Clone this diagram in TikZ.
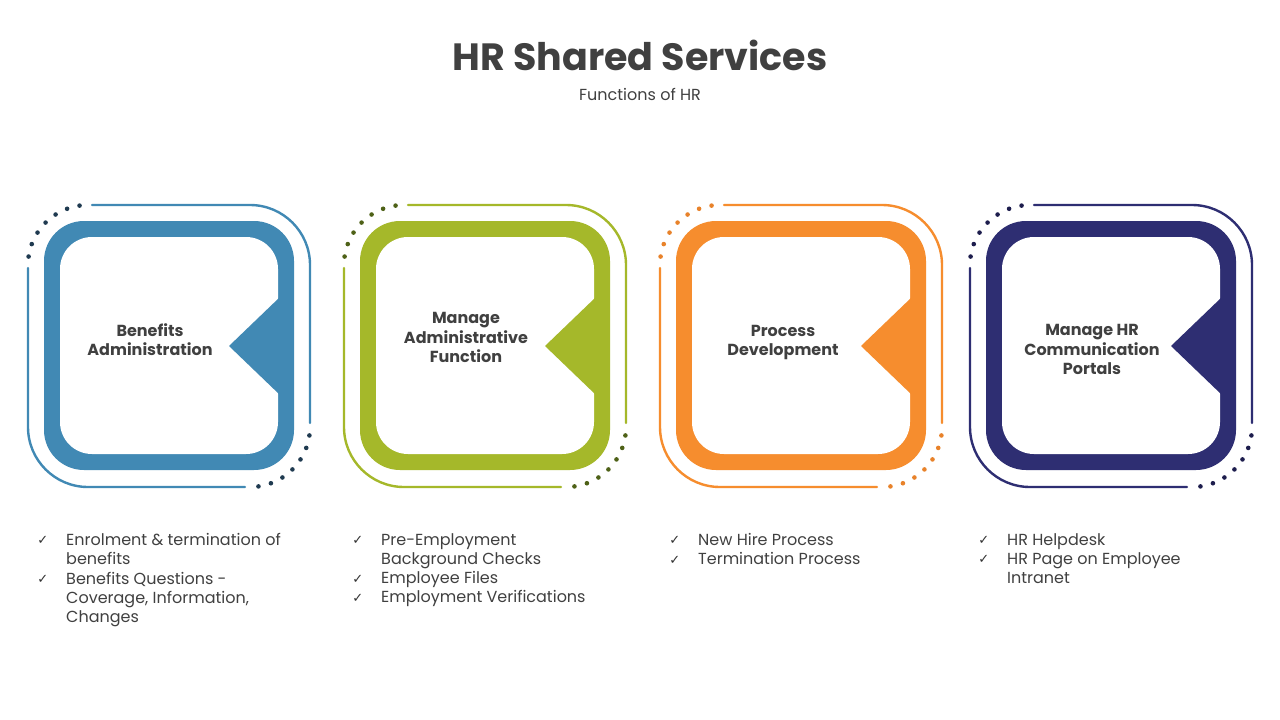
\documentclass[tikz,border=0pt]{standalone}
\usepackage{fontspec}
\setmainfont{Poppins}
\newfontfamily\symfont{DejaVu Sans}
\definecolor{cblue}{HTML}{4189B4}
\definecolor{cgreen}{HTML}{A5B82A}
\definecolor{corange}{HTML}{F68D2E}
\definecolor{cnavy}{HTML}{2E2E72}
\definecolor{dblue}{HTML}{1F3A50}
\definecolor{dgreen}{HTML}{4E6117}
\definecolor{dorange}{HTML}{E8822A}
\definecolor{dnavy}{HTML}{1D1D4D}
\definecolor{tgray}{HTML}{404040}
\newcommand\chk{\llap{\raisebox{0.5pt}{\symfont\fontsize{13}{13}\selectfont\color{black!80}✓}\hspace{18pt}}}
\newcommand\hrcard[3]{%
 \begin{scope}[shift={(#1,346)}]
  \fill[#2,rounded corners=40pt] (-125,-125) rectangle (125,124);
  \fill[white,rounded corners=32pt] (-109,-109) rectangle (109,108);
  \fill[#2] (111,-49) -- (60,0) -- (111,49) -- cycle;
  \draw[#2,thinframe] (-77,-141) -- (141,-141) -- (141,77);
  \draw[#2,thinframe] (-141,-78) -- (-141,141) -- (76,141);
  \foreach \k in {-3,...,3} {
    \fill[#3] ({-81+60*cos(135+12.3*\k)},{-81-60*sin(135+12.3*\k)}) circle (2.3);
    \fill[#3] ({81+60*cos(-45+12.3*\k)},{81-60*sin(-45+12.3*\k)}) circle (2.3);
  }
 \end{scope}}
\tikzset{
  thinframe/.style={line width=2.4pt,line cap=round,rounded corners=60pt},
  ctitle/.style={font=\bfseries\fontsize{16}{19.5}\selectfont,align=center,text=tgray,inner sep=0pt},
  blist/.style={anchor=north west,align=left,inner sep=0pt,font=\fontsize{16}{19.3}\selectfont,text=tgray}
}
\begin{document}
\begin{tikzpicture}[x=1pt,y=-1pt]
\useasboundingbox (0,0) rectangle (1280,720);
\fill[white] (0,0) rectangle (1280,720);
\node[text=tgray,inner sep=0pt,font=\bfseries\fontsize{38}{42}\selectfont] (title) at (640,55) {HR Shared Services};
\node[text=tgray,inner sep=0pt,font=\fontsize{16}{19}\selectfont] (sub) at (640,94) {Functions of HR};

\hrcard{169}{cblue}{dblue}
\hrcard{485}{cgreen}{dgreen}
\hrcard{801}{corange}{dorange}
\hrcard{1111}{cnavy}{dnavy}

\node[ctitle] (t1) at (150,339.5) {Benefits\\Administration};
\node[ctitle] (t2) at (466,337.5) {Manage\\Administrative\\Function};
\node[ctitle] (t3) at (783,342.5) {Process\\Development};
\node[ctitle] (t4) at (1092,349.5) {Manage HR\\Communication\\Portals};

\node[blist] (l1) at (66,533) {\chk Enrolment \& termination of\\benefits\\\chk Benefits Questions -\\Coverage, Information,\\Changes};
\node[blist] (l2) at (381,533) {\chk Pre-Employment\\Background Checks\\\chk Employee Files\\\chk Employment Verifications};
\node[blist] (l3) at (698,533) {\chk New Hire Process\\\chk Termination Process};
\node[blist] (l4) at (1007,533) {\chk HR Helpdesk\\\chk HR Page on Employee\\Intranet};
\end{tikzpicture}
\end{document}
